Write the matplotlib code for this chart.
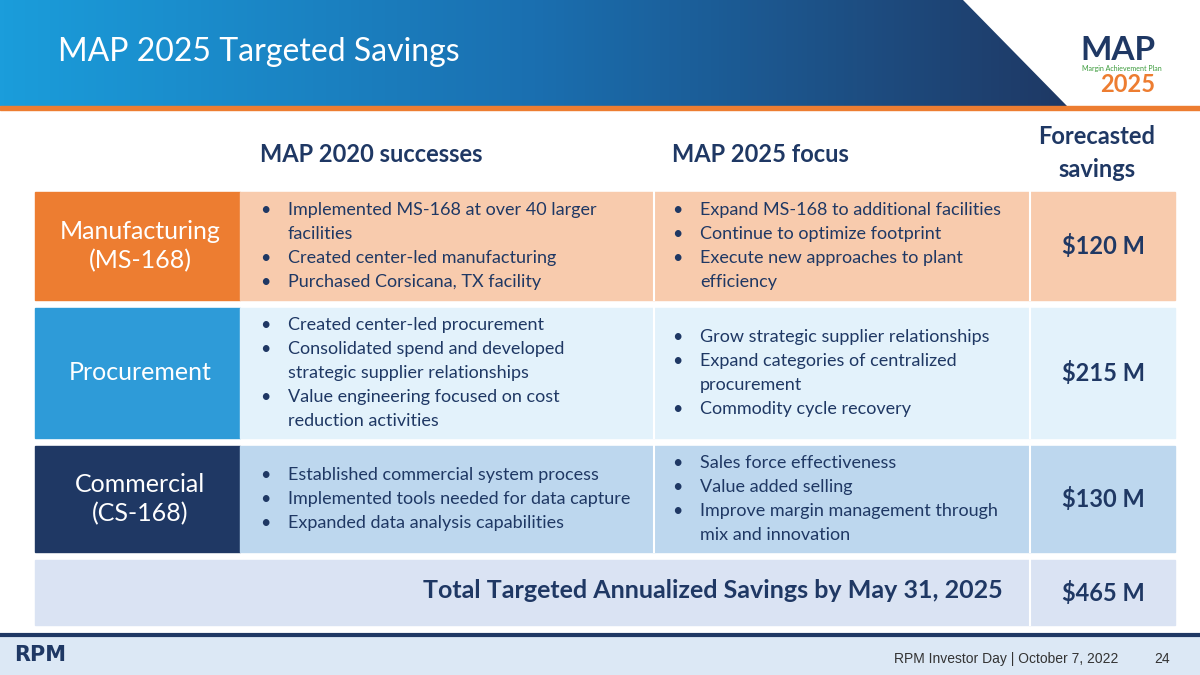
import numpy as np
import matplotlib.pyplot as plt
from matplotlib.patches import Rectangle, Polygon
from matplotlib.colors import LinearSegmentedColormap

title = "MAP 2025 Targeted Savings"
categories = ["Manufacturing\n(MS-168)", "Procurement", "Commercial\n(CS-168)"]
savings = [120, 215, 130]
total_label = "Total Targeted Annualized Savings by May 31, 2025"
successes = [
    ["Implemented MS-168 at over 40 larger\nfacilities", "Created center-led manufacturing",
     "Purchased Corsicana, TX facility"],
    ["Created center-led procurement", "Consolidated spend and developed\nstrategic supplier relationships",
     "Value engineering focused on cost\nreduction activities"],
    ["Established commercial system process", "Implemented tools needed for data capture",
     "Expanded data analysis capabilities"],
]
focus = [
    ["Expand MS-168 to additional facilities", "Continue to optimize footprint",
     "Execute new approaches to plant\nefficiency"],
    ["Grow strategic supplier relationships", "Expand categories of centralized\nprocurement",
     "Commodity cycle recovery"],
    ["Sales force effectiveness", "Value added selling",
     "Improve margin management through\nmix and innovation"],
]

navy = "#1F3864"
dark_colors = ["#ED7D31", "#2E9BD8", "#1F3864"]
light_colors = ["#F8CBAD", "#E3F2FB", "#BDD7EE"]
row_y = [(192, 300), (308, 438), (446, 552)]

plt.rcParams['font.family'] = ['Lato', 'DejaVu Sans']
fig = plt.figure(figsize=(12, 6.75), dpi=100)
ax = fig.add_axes([0, 0, 1, 1])
ax.set_xlim(0, 1200)
ax.set_ylim(675, 0)
ax.axis('off')

# header gradient banner
grad = np.linspace(0, 1, 256).reshape(1, -1)
cmap = LinearSegmentedColormap.from_list("b", ["#1B9DDB", "#1A6FB0", "#1F3864"])
im = ax.imshow(grad, cmap=cmap, extent=[0, 1070, 106, 0], aspect='auto', zorder=1)
clip = Polygon([(0, 0), (963, 0), (1067, 106), (0, 106)], closed=True, transform=ax.transData)
im.set_clip_path(clip)
ax.add_patch(Rectangle((0, 106), 1200, 4, color="#ED7D31", zorder=2))
ax.text(58, 52, title, color="white", fontsize=23, va='center', ha='left', zorder=3)

# logo approximation
ax.text(1118, 50, "MAP", color=navy, fontsize=24, fontweight='bold', ha='center', va='center')
ax.text(1122, 68, "Margin Achievement Plan", color="#3A9A3A", fontsize=5, ha='center', va='center')
ax.text(1128, 84, "2025", color="#ED7D31", fontsize=17, fontweight='bold', ha='center', va='center')

# column headers
ax.text(260, 155, "MAP 2020 successes", color=navy, fontsize=17, fontweight='bold', va='center')
ax.text(672, 155, "MAP 2025 focus", color=navy, fontsize=17, fontweight='bold', va='center')
ax.text(1097, 153, "Forecasted\nsavings", color=navy, fontsize=17, fontweight='bold',
        va='center', ha='center', linespacing=1.55)

for i, (y0, y1) in enumerate(row_y):
    h = y1 - y0
    ax.add_patch(Rectangle((35, y0), 205, h, color=dark_colors[i]))
    ax.add_patch(Rectangle((240, y0), 935, h, color=light_colors[i]))
    for xs in (654, 1030):
        ax.plot([xs, xs], [y0, y1], color="white", lw=1.5)
    ax.text(140, (y0 + y1) / 2, categories[i], color="white", fontsize=18, ha='center',
            va='center', linespacing=1.3)
    ax.text(1103, (y0 + y1) / 2, f"${savings[i]} M", color=navy, fontsize=17,
            fontweight='bold', ha='center', va='center')
    for col, (items, xb) in enumerate(((successes[i], 260), (focus[i], 672))):
        lines = []
        for it in items:
            parts = it.split("\n")
            lines.append(("\u2022", parts[0]))
            for p in parts[1:]:
                lines.append(("", p))
        step = 24
        ystart = (y0 + y1) / 2 - step * (len(lines) - 1) / 2
        for k, (b, t) in enumerate(lines):
            yy = ystart + k * step
            ax.text(xb, yy, b, color=navy, fontsize=13, va='center')
            ax.text(xb + 28, yy, t, color=navy, fontsize=13, va='center')

# total row
ax.add_patch(Rectangle((35, 560), 1140, 65, color="#DAE3F3"))
ax.plot([1030, 1030], [560, 625], color="white", lw=1.5)
ax.text(1003, 591, total_label, color=navy, fontsize=18, fontweight='bold', ha='right', va='center')
ax.text(1103, 593, f"${sum(savings)} M", color=navy, fontsize=17, fontweight='bold',
        ha='center', va='center')

# footer
ax.add_patch(Rectangle((0, 637), 1200, 38, color="#DCE8F5"))
ax.plot([0, 1200], [635, 635], color=navy, lw=3)
ax.text(14, 655, "RPM", color=navy, fontsize=15, fontweight='bold', va='center',
        family='Liberation Sans Narrow')
ax.text(1118, 659, "RPM Investor Day | October 7, 2022", color="#333333", fontsize=10,
        ha='right', va='center', family='Liberation Sans')
ax.text(1170, 659, "24", color="#333333", fontsize=10, ha='right', va='center',
        family='Liberation Sans')

fig.savefig("out.png", dpi=100)
